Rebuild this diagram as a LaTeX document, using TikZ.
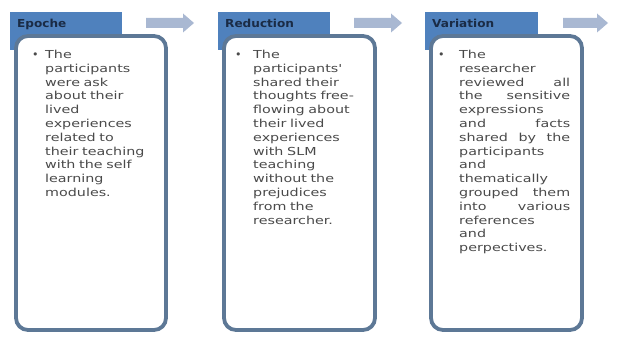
\documentclass[tikz,border=0pt]{standalone}
\usepackage{fontspec}
\usepackage{tikz}

\newfontfamily\bodyfont{DejaVu Sans}[FakeStretch=1.3]
\newfontfamily\headfont{DejaVu Sans}[FakeStretch=1.1]
\newfontfamily\dotfont{DejaVu Sans}

\definecolor{tabblue}{HTML}{4F81BD}
\definecolor{cardline}{HTML}{5D7896}
\definecolor{flowblue}{HTML}{A9B8D2}
\definecolor{headtext}{HTML}{1A2B45}
\definecolor{bodytext}{HTML}{4A4A4A}

\begin{document}
\begin{tikzpicture}[x=1pt,y=-1pt,
                tab/.style={fill=tabblue},
                card/.style={draw=cardline,line width=3.8pt,fill=white,rounded corners=12pt},
                flow/.style={fill=flowblue},
                head/.style={anchor=base west,inner sep=0pt,text=headtext,
                  font=\headfont\bfseries\fontsize{11}{13}\selectfont},
                body/.style={anchor=north west,inner sep=0pt,text=bodytext,
                  font=\bodyfont\fontsize{11}{13.8}\selectfont}]
                \fill[white] (0,0) rectangle (621,339);
                \useasboundingbox (0,0) rectangle (621,339);

                \fill[tab] (10,12) rectangle (122,50);
                \draw[card] (16,36) rectangle (166,330);
                \node[head] (epoche) at (17,28) {Epoche};
                \node[body,text width=130pt,align=left] (epocheText) at (32,50)
                  {\noindent\hangindent=13pt\hangafter=1\makebox[13pt][l]{\dotfont•}The\newline
                  participants\newline were ask\newline about their\newline lived\newline
                  experiences\newline related to\newline their teaching\newline
                  with the self\newline learning\newline modules.\par};

                \fill[tab] (218,12) rectangle (330,50);
                \draw[card] (224,36) rectangle (375,330);
                \node[head] (reduction) at (225,28) {Reduction};
                \node[body,text width=137pt,align=left] (reductionText) at (235,50)
                  {\noindent\hangindent=18pt\hangafter=1\makebox[18pt][l]{\dotfont•}The\newline
                  participants'\newline shared their\newline thoughts free-\newline
                  flowing about\newline their lived\newline experiences\newline
                  with SLM\newline teaching\newline without the\newline prejudices\newline
                  from the\newline researcher.\par};

                \fill[tab] (425,12) rectangle (538,50);
                \draw[card] (431,36) rectangle (582,330);
                \node[head] (variation) at (432,28) {Variation};
                \node[body,text width=132pt,align=justify] (variationText) at (438,50)
                  {\tolerance=10000\hbadness=10000\hyphenpenalty=10000
                  \noindent\hangindent=21pt\hangafter=1\makebox[21pt][l]{\dotfont•}The\linebreak
                  researcher\linebreak reviewed all\linebreak the sensitive\linebreak
                  expressions\linebreak and facts\linebreak shared by the\linebreak
                  participants\linebreak and\linebreak thematically\linebreak
                  grouped them\linebreak into various\linebreak references\linebreak
                  and\linebreak perpectives.\par};

                \fill[flow] (146,18) -- (183,18) -- (183,13.5) -- (194,23)
                  -- (183,32.5) -- (183,28) -- (146,28) -- cycle;
                \fill[flow] (354,18) -- (391,18) -- (391,13.5) -- (402,23)
                  -- (391,32.5) -- (391,28) -- (354,28) -- cycle;
                \fill[flow] (563,18) -- (597,18) -- (597,13.5) -- (608,23)
                  -- (597,32.5) -- (597,28) -- (563,28) -- cycle;
            \end{tikzpicture}
\end{document}
